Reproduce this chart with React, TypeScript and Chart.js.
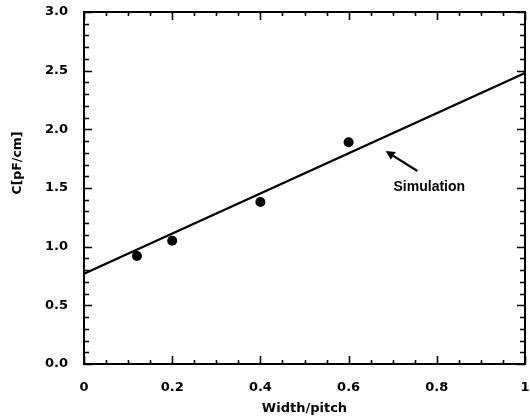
import React, { useEffect, useRef } from "react";
import { Chart, registerables } from "chart.js";

Chart.register(...registerables);

// Axis ticks and labels
const xTickValues = [0, 0.2, 0.4, 0.6, 0.8, 1];
const xTickLabels = ["0", "0.2", "0.4", "0.6", "0.8", "1"];
const yTickValues = [0, 0.5, 1.0, 1.5, 2.0, 2.5, 3.0];
const yTickLabels = ["0.0", "0.5", "1.0", "1.5", "2.0", "2.5", "3.0"];
const xMinorStep = 0.05;
const yMinorStep = 0.1;

// Measured capacitance per unit length vs width/pitch
const measuredWidth = [0.12, 0.2, 0.4, 0.6];
const measuredC = [0.92, 1.05, 1.38, 1.89];

// Simulated curve
const simWidth = [0, 1];
const simC = [0.77, 2.48];

// Annotation: arrow pointing at the simulated curve, with its caption
const arrowTail = [0.756, 1.645];
const arrowHead = [0.684, 1.815];
const captionAt = [0.783, 1.51];
const captionText = "Simulation";

const xTitle = "Width/pitch";
const yTitle = "C[pF/cm]";

const tickFont = { family: "'DejaVu Sans', sans-serif", size: 13, weight: "bold" as const };

const framePlugin = {
  id: "frameAndAnnotations",
  afterDraw(chart: any) {
    const { ctx, chartArea, scales } = chart;
    const xs = scales.x;
    const ys = scales.y;
    const { left, right, top, bottom } = chartArea;
    ctx.save();
    ctx.strokeStyle = "#000";
    ctx.fillStyle = "#000";

    // frame
    ctx.lineWidth = 2;
    ctx.beginPath();
    ctx.rect(left, top, right - left, bottom - top);
    ctx.stroke();

    // inward ticks on all four sides
    ctx.lineWidth = 1.6;
    const xMin = xs.min, xMax = xs.max, yMin = ys.min, yMax = ys.max;
    const nx = Math.round((xMax - xMin) / xMinorStep);
    for (let i = 0; i <= nx; i++) {
      const v = xMin + i * xMinorStep;
      const major = xTickValues.some((t) => Math.abs(t - v) < 1e-6);
      const len = major ? 8 : 4;
      const px = Math.round(xs.getPixelForValue(v)) + 0.5;
      ctx.beginPath();
      ctx.moveTo(px, bottom);
      ctx.lineTo(px, bottom - len);
      ctx.moveTo(px, top);
      ctx.lineTo(px, top + len);
      ctx.stroke();
    }
    const ny = Math.round((yMax - yMin) / yMinorStep);
    for (let i = 0; i <= ny; i++) {
      const v = yMin + i * yMinorStep;
      const major = yTickValues.some((t) => Math.abs(t - v) < 1e-6);
      const len = major ? 8 : 5;
      const py = Math.round(ys.getPixelForValue(v)) + 0.5;
      ctx.beginPath();
      ctx.moveTo(left, py);
      ctx.lineTo(left + len, py);
      ctx.moveTo(right, py);
      ctx.lineTo(right - len, py);
      ctx.stroke();
    }

    // arrow
    const tx = xs.getPixelForValue(arrowTail[0]);
    const ty = ys.getPixelForValue(arrowTail[1]);
    const hx = xs.getPixelForValue(arrowHead[0]);
    const hy = ys.getPixelForValue(arrowHead[1]);
    const ang = Math.atan2(hy - ty, hx - tx);
    const headLen = 9;
    const headHalf = 4.5;
    const bx = hx - headLen * Math.cos(ang);
    const by = hy - headLen * Math.sin(ang);
    ctx.lineWidth = 2.2;
    ctx.beginPath();
    ctx.moveTo(tx, ty);
    ctx.lineTo(bx, by);
    ctx.stroke();
    ctx.beginPath();
    ctx.moveTo(hx, hy);
    ctx.lineTo(bx + headHalf * Math.sin(ang), by - headHalf * Math.cos(ang));
    ctx.lineTo(bx - headHalf * Math.sin(ang), by + headHalf * Math.cos(ang));
    ctx.closePath();
    ctx.fill();

    // caption
    ctx.font = "bold 14px 'Liberation Sans', Arial, sans-serif";
    ctx.textAlign = "center";
    ctx.textBaseline = "middle";
    ctx.fillText(captionText, xs.getPixelForValue(captionAt[0]), ys.getPixelForValue(captionAt[1]));

    // vertical axis title
    ctx.translate(17.5, 163);
    ctx.rotate(-Math.PI / 2);
    ctx.font = "bold 12.5px 'DejaVu Sans', sans-serif";
    ctx.fillText(yTitle, 0, 0);
    ctx.restore();
  },
};

export default function App() {
  const canvasRef = useRef<HTMLCanvasElement | null>(null);

  useEffect(() => {
    const canvas = canvasRef.current;
    if (!canvas) return;
    const chart = new Chart(canvas, {
      type: "scatter",
      data: {
        datasets: [
          {
            label: "Simulation",
            data: simWidth.map((x, i) => ({ x, y: simC[i] })),
            showLine: true,
            borderColor: "#000",
            borderWidth: 2.2,
            pointRadius: 0,
            fill: false,
          },
          {
            label: "Measured",
            data: measuredWidth.map((x, i) => ({ x, y: measuredC[i] })),
            showLine: false,
            pointRadius: 5,
            pointBackgroundColor: "#000",
            pointBorderColor: "#000",
            pointBorderWidth: 0,
          },
        ],
      },
      options: {
        responsive: false,
        animation: false,
        devicePixelRatio: 1,
        layout: { padding: { top: 12, right: 1, left: 0, bottom: 0 } },
        plugins: {
          legend: { display: false },
          tooltip: { enabled: false },
        },
        scales: {
          x: {
            type: "linear",
            min: 0,
            max: 1,
            grid: { display: false, drawTicks: false },
            border: { display: false },
            afterBuildTicks: (scale: any) => {
              scale.ticks = xTickValues.map((value) => ({ value }));
            },
            ticks: {
              color: "#000",
              font: tickFont,
              padding: 16,
              maxRotation: 0,
              autoSkip: false,
              callback: (_v: any, i: number) => xTickLabels[i],
            },
            title: {
              display: true,
              text: xTitle,
              color: "#000",
              font: { family: "'DejaVu Sans', sans-serif", size: 13, weight: "bold" },
              padding: { top: 0, bottom: 2 },
            },
            afterFit: (scale: any) => {
              scale.height = 54;
              scale.paddingLeft = 0;
              scale.paddingRight = 0;
            },
          },
          y: {
            type: "linear",
            min: 0,
            max: 3,
            grid: { display: false, drawTicks: false },
            border: { display: false },
            afterBuildTicks: (scale: any) => {
              scale.ticks = yTickValues.map((value) => ({ value }));
            },
            ticks: {
              color: "#000",
              font: tickFont,
              padding: 16,
              autoSkip: false,
              callback: (_v: any, i: number) => yTickLabels[i],
            },
            afterFit: (scale: any) => {
              scale.width = 84;
              scale.paddingTop = 0;
              scale.paddingBottom = 0;
            },
          },
        },
      },
      plugins: [framePlugin],
    });
    return () => chart.destroy();
  }, []);

  return (
    <div style={{ position: "fixed", left: 0, top: 0, width: 530, height: 418, background: "#fff" }}>
      <canvas ref={canvasRef} width={530} height={418} />
    </div>
  );
}
